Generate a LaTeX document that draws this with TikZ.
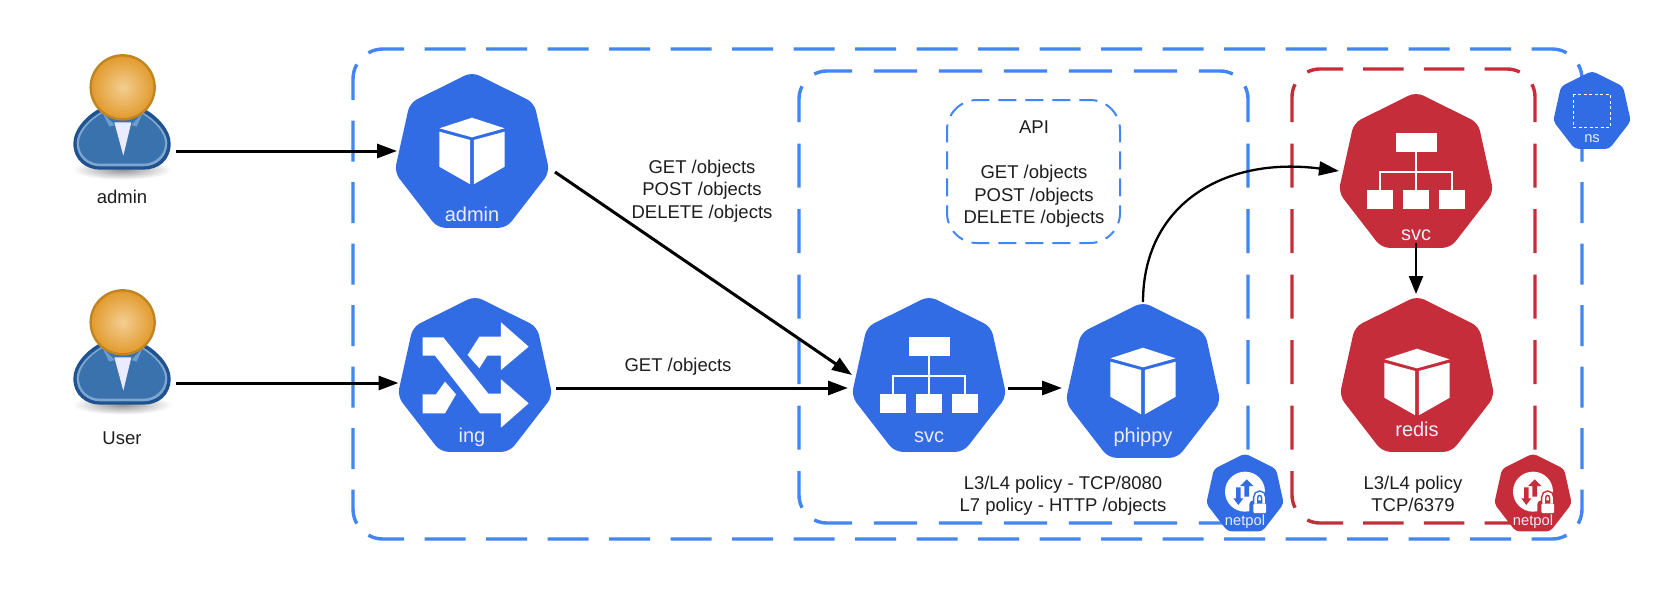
\documentclass[tikz,border=0pt]{standalone}
\usepackage{fontspec}
\setmainfont{Liberation Sans}
\usetikzlibrary{arrows.meta,shapes.geometric}
\definecolor{kblue}{HTML}{326CE5}
\definecolor{kred}{HTML}{C62D3A}
\definecolor{dblue}{HTML}{4285F4}
\definecolor{ink}{HTML}{1E1E1E}
\definecolor{suit}{HTML}{3A72AE}
\definecolor{suitdark}{HTML}{1F5290}
\definecolor{suitlight}{HTML}{7FA6CE}
\definecolor{collar}{HTML}{6E9CCB}
\definecolor{headmain}{HTML}{E29A2C}
\definecolor{headlight}{HTML}{F3CE92}
\definecolor{headring}{HTML}{C08420}
\tikzset{
  x=1pt,y=-1pt,
  hexbig/.style={regular polygon,regular polygon sides=7,minimum size=164pt,inner sep=0pt,outer sep=0pt,rounded corners=8pt,fill=#1,transform shape},
  hexsmall/.style={regular polygon,regular polygon sides=7,minimum size=82pt,inner sep=0pt,outer sep=0pt,rounded corners=4pt,fill=#1,transform shape},
  txt/.style={font=\fontsize{18.5}{22.3}\selectfont,text=ink,align=center,inner sep=0pt},
  hexlbig/.style={font=\fontsize{20}{24}\selectfont,text=white!92!blue,inner sep=0pt},
  hexlsmall/.style={font=\fontsize{14.7}{18}\selectfont,text=white!92!blue,inner sep=0pt},
  zoneline/.style={draw=#1,line width=3.4pt},
  apiline/.style={draw=dblue,line width=2pt,dash pattern=on 18pt off 9pt,dash phase=9pt},
  conn/.style={draw=black,line width=3pt,-{Triangle[length=20pt,width=14pt]}},
  personbox/.style={minimum width=108pt,minimum height=10pt,inner sep=0pt,outer sep=0pt},
  ico/.style={fill=white,draw=none},
}
% one side of a dashed zone, from corner arc to corner arc
\newcommand{\zonecalc}[2]{%
  \pgfmathsetmacro\zsa{#1*sin(#2)}\pgfmathsetmacro\zsb{#1*(1-cos(#2))}%
  \pgfmathsetmacro\zsk{4/3*tan(#2/4)*#1}%
  \pgfmathsetmacro\zsc{\zsk*cos(#2)}\pgfmathsetmacro\zsd{\zsk*sin(#2)}}
\newcommand{\hside}[7]{% xL xR y sign r theta options
  \zonecalc{#5}{#6}%
  \draw[#7] ({#1+#5-\zsa},{#3+#4*\zsb}) .. controls ({#1+#5-\zsa+\zsc},{#3+#4*(\zsb-\zsd)}) and ({#1+#5-\zsk},#3) .. ({#1+#5},#3) -- ({#2-#5},#3) .. controls ({#2-#5+\zsk},#3) and ({#2-#5+\zsa-\zsc},{#3+#4*(\zsb-\zsd)}) .. ({#2-#5+\zsa},{#3+#4*\zsb});}
\newcommand{\vside}[7]{% yT yB x sign r theta options
  \zonecalc{#5}{#6}%
  \draw[#7] ({#3+#4*\zsb},{#1+#5-\zsa}) .. controls ({#3+#4*(\zsb-\zsd)},{#1+#5-\zsa+\zsc}) and (#3,{#1+#5-\zsk}) .. (#3,{#1+#5}) -- (#3,{#2-#5}) .. controls (#3,{#2-#5+\zsk}) and ({#3+#4*(\zsb-\zsd)},{#2-#5+\zsa-\zsc}) .. ({#3+#4*\zsb},{#2-#5+\zsa});}
\newcommand{\hexpod}[4]{%
 \begin{scope}[shift={(#2,#3-1)},xscale=.97]\node[hexbig=#4] (#1) at (0,0) {};\end{scope}}
\newcommand{\hexmini}[4]{%
 \begin{scope}[shift={(#2,#3-.5)},xscale=.97]\node[hexsmall=#4] (#1) at (0,0) {};\end{scope}}
\newcommand{\cubeicon}[2]{%
 \begin{scope}[shift={(#1,#2)}]
  \fill[ico] (0,-33.3)--(32.5,-22.7)--(0,-13.7)--(-32.5,-22.7)--cycle;
  \fill[ico] (-32.7,-19.3)--(-1.8,-11)--(-1.8,33.3)--(-32.7,15.7)--cycle;
  \fill[ico] (32.7,-19.3)--(1.8,-11)--(1.8,33.3)--(32.7,15.7)--cycle;
 \end{scope}}
\newcommand{\svcicon}[2]{%
 \begin{scope}[shift={(#1,#2)}]
  \fill[ico] (-20.5,-42) rectangle (20.5,-23);
  \fill[ico] (-49,15) rectangle (-23,34);
  \fill[ico] (-13,15) rectangle (13,34);
  \fill[ico] (23,15) rectangle (49,34);
  \draw[white,line width=1.4pt] (0,-23)--(0,15) (-36,15)--(-36,-3)--(36,-3)--(36,15);
 \end{scope}}
\newcommand{\ingicon}[2]{%
 \begin{scope}[shift={(#1,#2)},scale=0.3333]
  \fill[ico] (68,127)--(130,127)--(265,296)--(303,296)--(303,253)--(386,325)--(303,398)--(303,355)--(240,355)--(105,182)--(68,182)--cycle;
  \fill[ico] (203,180)--(238,125)--(303,125)--(303,82)--(386,155)--(303,225)--(303,182)--(262,182)--(238,220)--cycle;
  \fill[ico] (68,298)--(108,298)--(135,260)--(168,298)--(135,355)--(68,355)--cycle;
 \end{scope}}
\newcommand{\netpolicon}[3]{%
 \begin{scope}[shift={(#1,#2)},scale=0.3333]
  \fill[white] (0,-10) circle (60);
  \fill[#3] (5,-47)--(25,-27)--(12,-27)--(12,5)--(-2,5)--(-2,-27)--(-15,-27)--cycle;
  \fill[#3] (-20,30)--(-35,10)--(-27,10)--(-27,-23)--(-13,-23)--(-13,10)--(-5,10)--cycle;
  \fill[#3,rounded corners=4pt] (13,16) rectangle (74,65);
  \draw[#3,line width=5.5pt] (32,26)--(32,8) .. controls (32,-10) and (56,-10) .. (56,8) --(56,26);
  \draw[white,line width=2.4pt] (32,26)--(32,8) .. controls (32,-10) and (56,-10) .. (56,8) --(56,26);
  \fill[white,rounded corners=1pt] (25,26) rectangle (63,54);
 \end{scope}}
\newcommand{\personicon}[2]{%
 \begin{scope}[shift={(#1,#2)},scale=0.3333]
  \shade[inner color=black!42,outer color=white] (186,374) ellipse (150 and 30);
  \path[fill=suitdark]
    (120,190) .. controls (78,212) and (40,255) .. (40,295) .. controls (40,347) and (80,374) .. (120,374) -- (250,374) .. controls (295,374) and (332,347) .. (332,295) .. controls (332,255) and (292,212) .. (250,190) -- cycle;
  \fill[suitlight] (125,200) .. controls (85,222) and (50,260) .. (50,295) .. controls (50,338) and (85,364) .. (120,364) -- (250,364) .. controls (288,364) and (322,338) .. (322,295) .. controls (322,260) and (285,222) .. (245,200) -- cycle;
  \fill[suit] (125,206) .. controls (88,228) and (57,262) .. (57,295) .. controls (57,332) and (88,356) .. (120,356) -- (250,356) .. controls (282,356) and (315,332) .. (315,295) .. controls (315,262) and (282,228) .. (245,206) -- cycle;
  \fill[white!92!blue] (163,232)--(214,232)--(190,332)--cycle;
  \fill[collar] (128,205)--(165,240)--(148,245)--cycle (248,205)--(214,240)--(230,245)--cycle;
  \shade[inner color=headlight,outer color=headmain,draw=headring,line width=2.4pt,shading=radial] (188,127) circle (96);
 \end{scope}}
\begin{document}
\begin{tikzpicture}
\useasboundingbox (0,0) rectangle (1662,602);
\fill[white] (0,0) rectangle (1662,602);

% namespace zone
\hside{353}{1582}{49}{1}{30}{29}{zoneline=dblue,dash pattern=on 41pt off 20.5pt,dash phase=4.8pt}
\hside{353}{1582}{539}{-1}{30}{29}{zoneline=dblue,dash pattern=on 41pt off 20.5pt,dash phase=4.8pt}
\vside{49}{539}{353}{1}{30}{29}{zoneline=dblue,dash pattern=on 41pt off 20.5pt,dash phase=4.8pt}
\vside{49}{539}{1582}{-1}{30}{29}{zoneline=dblue,dash pattern=on 41pt off 20.5pt,dash phase=4.8pt}
% app zone
\hside{799}{1248}{71}{1}{28}{27}{zoneline=dblue,dash pattern=on 43.3pt off 21.7pt,dash phase=5pt}
\hside{799}{1248}{523}{-1}{28}{27}{zoneline=dblue,dash pattern=on 43.3pt off 21.7pt,dash phase=5pt}
\vside{71}{523}{799}{1}{28}{27}{zoneline=dblue,dash pattern=on 44pt off 21.5pt,dash phase=7.8pt}
\vside{71}{523}{1248}{-1}{28}{27}{zoneline=dblue,dash pattern=on 44pt off 21.5pt,dash phase=7.8pt}
% redis zone
\hside{1292}{1535}{69}{1}{28}{27}{zoneline=kred,dash pattern=on 40.5pt off 20.2pt,dash phase=4.3pt}
\hside{1292}{1535}{523}{-1}{28}{27}{zoneline=kred,dash pattern=on 40.5pt off 20.2pt,dash phase=4.3pt}
\vside{69}{523}{1292}{1}{28}{27}{zoneline=kred,dash pattern=on 44pt off 21.5pt,dash phase=5.8pt}
\vside{69}{523}{1535}{-1}{28}{27}{zoneline=kred,dash pattern=on 44pt off 21.5pt,dash phase=5.8pt}
% API box
\hside{947}{1120}{100}{1}{30}{45}{apiline}
\hside{947}{1120}{243}{-1}{30}{45}{apiline}
\vside{100}{243}{947}{1}{30}{45}{apiline}
\vside{100}{243}{1120}{-1}{30}{45}{apiline}

% people
\personicon{60}{45}
\personicon{60}{280}
\node[personbox] (uadmin) at (122,151) {};
\node[personbox] (uuser) at (122,383) {};
\node[txt] (ladmin) at (122,197) {admin};
\node[txt] (luser) at (122,438) {User};

% pods
\hexpod{podadmin}{472}{155}{kblue}
\hexpod{poding}{475}{379}{kblue}
\hexpod{podsvc}{929}{379}{kblue}
\hexpod{podphippy}{1143}{385}{kblue}
\hexpod{podrsvc}{1416}{175}{kred}
\hexpod{podredis}{1417}{379}{kred}
\cubeicon{472}{151}
\ingicon{400}{295}
\svcicon{929}{379}
\cubeicon{1143}{381}
\svcicon{1416}{175}
\cubeicon{1417}{382}
\node[hexlbig] (tadmin) at (472,214) {admin};
\node[hexlbig] (ting) at (472,437) {ing};
\node[hexlbig] (tsvc) at (929,437) {svc};
\node[hexlbig] (tphippy) at (1143,437) {phippy};
\node[hexlbig] (trsvc) at (1416,235) {svc};
\node[hexlbig] (tredis) at (1417,429) {redis};

% small hexes
\hexmini{hexns}{1592}{112.5}{kblue}
\draw[white,line width=1pt,dash pattern=on 3pt off 2.5pt] (1573,94) rectangle (1610,127);
\node[hexlsmall] (tns) at (1592,139) {ns};
\hexmini{hexnp1}{1245}{495}{kblue}
\netpolicon{1245}{495}{kblue}
\node[hexlsmall] (tnp1) at (1245,522) {netpol};
\hexmini{hexnp2}{1533}{495}{kred}
\netpolicon{1533}{495}{kred}
\node[hexlsmall] (tnp2) at (1533,522) {netpol};

% connectors
\draw[conn] (uadmin.east) -- ([xshift=-1.5pt]uadmin.east -| podadmin.west);
\draw[conn] (uuser.east) -- ([xshift=-3pt]uuser.east -| poding.west);
\draw[conn] ([shift={(83,18)}]podadmin.center) -- ([shift={(-77,-3)}]podsvc.center);
\draw[conn] ([shift={(81,10)}]poding.center) -- ([shift={(-81,10)}]podsvc.center);
\draw[conn] ([shift={(79,10)}]podsvc.center) -- ([shift={(-81,4)}]podphippy.center);
\draw[conn,line width=2.3pt] (podphippy.north) .. controls ([shift={(0,-96)}]podphippy.north) and ([shift={(-194,-18)}]podrsvc.center) .. ([shift={(-77,-3)}]podrsvc.center);
\draw[conn,line width=2.5pt,-{Triangle[length=18pt,width=14pt]}] ([yshift=5pt]podrsvc.south) -- ([yshift=2pt]podrsvc.south |- podredis.north);

% labels
\node[txt] (lblfull) at (702,191) {GET /objects\\POST /objects\\DELETE /objects};
\node[txt] (lblget) at (678,367) {GET /objects};
\node[txt] (lblapi) at (1034,127) {API};
\node[txt] (lblapi2) at (1034,196.5) {GET /objects\\POST /objects\\DELETE /objects};
\node[txt] (lblpol1) at (1063,496) {L3/L4 policy - TCP/8080\\L7 policy - HTTP /objects};
\node[txt] (lblpol2) at (1413,494) {L3/L4 policy\\TCP/6379};
\end{tikzpicture}
\end{document}
